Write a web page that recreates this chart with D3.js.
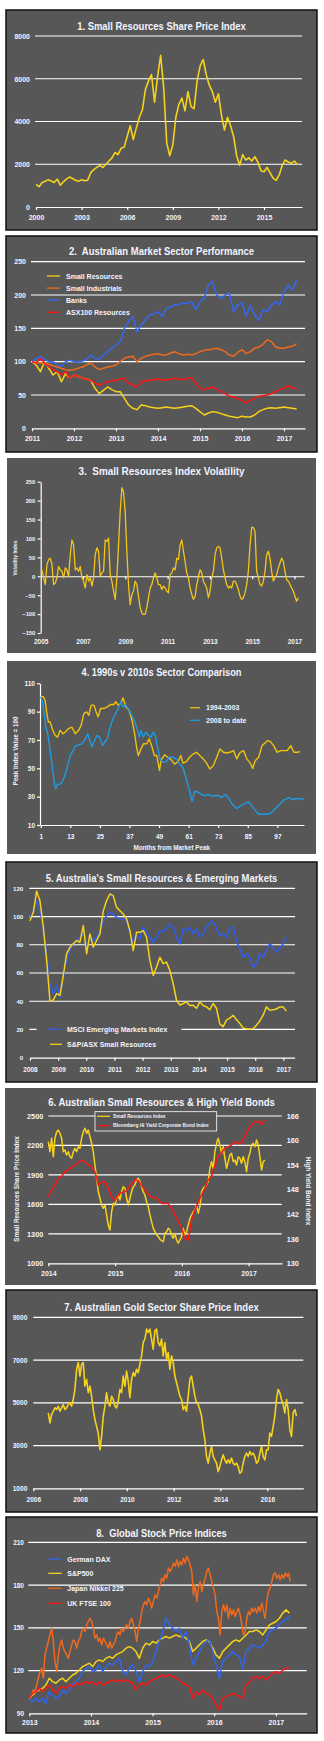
<!DOCTYPE html>
<html>
<head>
<meta charset="utf-8">
<script src="https://cdn.jsdelivr.net/npm/d3@7"></script>
<style>
  body { margin: 0; background: #fff; }
  svg { display: block; }
  svg text { font-family: "Liberation Sans", Arial, sans-serif; font-weight: bold; fill: #f2f4ff; }
  .title { white-space: pre; }
</style>
</head>
<body>
<svg id="chart" width="324" height="1741"></svg>
<script>
// ---- 1. Small Resources share price index (every 0.2 yr from 2000) ----
const smallResStart = 2000, smallResStep = 0.2;
const smallResIndex = [
  1060, 950, 1150, 1200, 1280, 1220, 1150, 1300, 1020, 1180,
  1300, 1400, 1330, 1250, 1200, 1280, 1230, 1250, 1600, 1750,
  1850, 1950, 1850, 2000, 2150, 2300, 2550, 2450, 2750, 2800,
  3300, 3800, 3150, 3700, 4200, 4550, 5500, 5900, 6200, 4900,
  6100, 7100, 5600, 3000, 2400, 2900, 4200, 4800, 5100, 4500,
  5400, 4700, 4600, 5900, 6600, 6900, 6200, 5700, 5400, 4900,
  5300, 4300, 3600, 4200, 3800, 3300, 2400, 1950, 2450, 2200,
  2300, 2150, 2350, 2100, 1700, 1650, 1850, 1600, 1350, 1250,
  1500, 1950, 2200, 2100, 2050, 2150, 1980
];
const smallResYears = [2000, 2003, 2006, 2009, 2012, 2015];
const smallResTicks = [0, 2000, 4000, 6000, 8000];

// ---- 2. Sector performance (every 0.1 yr from 2011) ----
const sectorStart = 2011, sectorStep = 0.1;
const sectorNames = ["Small Resources", "Small Industrials", "Banks", "ASX100 Resources"];
const sectorSmallRes = [
  100, 95, 85, 100, 90, 80, 85, 70, 82, 75,
  80, 78, 75, 74, 72, 60, 52, 57, 62, 58,
  55, 55, 45, 35, 30, 28, 35, 34, 32, 31,
  30, 31, 32, 31, 30, 31, 32, 33, 34, 30,
  25, 20, 23, 25, 24, 22, 20, 18, 17, 16,
  18, 17, 17, 20, 25, 28, 30, 31, 30, 31,
  32, 31, 30, 29
];
const sectorSmallInd = [
  100, 99, 98, 97, 96, 94, 92, 90, 88, 87,
  88, 90, 92, 95, 98, 92, 88, 90, 92, 93,
  95, 100, 105, 107, 108, 100, 105, 108, 110, 111,
  112, 110, 110, 113, 115, 112, 110, 111, 110, 112,
  115, 117, 118, 119, 120, 118, 115, 110, 108, 114,
  118, 112, 115, 120, 122, 126, 133, 130, 122, 120,
  120, 122, 123, 127
];
const sectorBanks = [
  100, 104, 108, 103, 100, 100, 96, 92, 100, 102,
  100, 100, 101, 103, 110, 105, 104, 110, 115, 120,
  125, 130, 150, 160, 168, 145, 155, 163, 170, 172,
  175, 168, 180, 182, 185, 186, 188, 187, 190, 178,
  190, 195, 215, 220, 200, 195, 200, 203, 175, 185,
  188, 168, 185, 170, 162, 178, 175, 185, 190, 185,
  205, 215, 208, 222
];
const sectorAsx100Res = [
  100, 98, 105, 98, 92, 88, 85, 80, 85, 75,
  80, 78, 75, 74, 72, 68, 65, 67, 70, 71,
  72, 74, 75, 68, 65, 62, 70, 71, 72, 73,
  74, 73, 72, 74, 75, 74, 73, 75, 76, 68,
  60, 58, 60, 62, 58, 55, 52, 48, 47, 45,
  42, 38, 42, 45, 48, 49, 50, 52, 55, 58,
  60, 64, 60, 60
];
const sectorYears = [2011, 2012, 2013, 2014, 2015, 2016, 2017];
const sectorTicks = [0, 50, 100, 150, 200, 250];

// ---- 3. Volatility index (every 0.0787 yr) ----
const volStart = 2005.06, volStep = 0.0787;
const volatility = [
  17, -4, -22, 31, 44, 48, 31, -22, -18, -4,
  26, 17, 13, -4, 22, 17, 0, 57, 96, 83,
  17, 22, 13, 26, -4, -13, -31, 4, -13, -4,
  -26, -4, 57, 75, 66, 0, 9, 13, 96, 92,
  101, 4, -13, -39, -61, -4, 83, 171, 234, 224,
  171, 66, -22, -75, -48, -39, -13, -22, -53, -83,
  -97, -101, -101, -83, -57, -31, -22, -4, 9, -4,
  -22, -22, -35, -26, -31, -39, -44, 4, 9, 22,
  17, 48, 44, 83, 96, 66, 39, 9, -4, -31,
  -48, -61, -53, -22, 0, 17, 9, -13, -22, -31,
  -57, -39, -4, 13, 57, 75, 79, 75, 48, 17,
  -4, -22, -31, -26, -31, -13, -13, -22, -35, -53,
  -61, -57, -44, -22, 13, 83, 129, 129, 118, 13,
  -4, -22, -26, -13, 13, 57, 66, 48, 13, -13,
  -4, 4, 22, 35, 48, 39, 13, -9, -13, -22,
  -31, -39, -53, -66, -57
];
const volYears = [2005, 2007, 2009, 2011, 2013, 2015, 2017];
const volTicks = [-150, -100, -50, 0, 50, 100, 150, 200, 250];

// ---- 4. Cycle comparison, [month from peak, index] ----
const cycle1994 = [
  [1,100.5],[2.1,100.5],[2.8,98],[3.5,88.6],[4.1,82.7],[4.8,82.7],[5.5,79],[6.2,75.6],[6.9,73.2],[7.8,72],
  [8.9,76.8],[10,74.4],[11,75.6],[12.3,78],[13.7,79],[15,74.4],[16.4,76.8],[17.4,80.3],[18.5,88.6],[19.6,89.8],
  [20.5,87.4],[21.5,94.6],[22.6,94.6],[23.5,89.8],[24.3,86.3],[25.3,92.2],[26.6,92.2],[28,93.4],[29.4,95],[30.7,95],
  [31.4,97],[32.4,94.6],[33.5,95.8],[34.4,99.8],[35.5,93.4],[36.9,91],[38.2,82.7],[39.2,73.2],[39.9,65],[40.6,59],
  [41.7,63.7],[42.7,67.3],[44,67.3],[45,70.8],[46,66],[47.1,59],[48.1,59],[49.2,48.5],[49.8,55.6],[51.2,59.5],
  [52.6,57.8],[53.9,56.1],[55.3,53],[56.7,54.7],[57.8,59],[58.7,53.7],[60.1,54.7],[61.4,57.8],[62.8,60.1],[64.2,61.3],
  [65.5,59],[66.9,56.7],[68.3,53.7],[69.6,49.5],[71,51.8],[72.4,57.8],[73.7,63.7],[75.1,61.3],[76.4,60.8],[77.8,61.3],
  [79.2,62.5],[80.5,56.7],[81.9,61.3],[83.3,62.5],[84.6,56.7],[86,53.7],[87,49.9],[88,55.4],[89.4,57.8],[90.8,66],
  [92.1,68],[93.1,69.6],[94.2,68.8],[95.5,66],[96.9,61.3],[98.3,62.5],[99.7,62.5],[101,62.5],[102.4,66],[103.7,61.3],
  [105.1,61.3],[106.2,61.8]
];
const cycle2008 = [
  [1,100.5],[1.7,97],[2.4,88.6],[3.1,79],[3.7,75.6],[4.4,68.4],[5.1,59],[5.8,49.5],[6.5,40],[7.1,35.7],
  [7.8,38.7],[8.6,38.7],[9.6,40],[10.5,43.5],[11.6,49.5],[13,59],[14.1,62.5],[15,65.6],[16.4,66.6],[17.8,67.3],
  [19.1,70.8],[20.1,74.4],[20.9,69.6],[21.9,65],[22.8,69.6],[23.9,73.2],[24.9,72],[26,66],[26.9,68.4],[28,70.8],
  [29,78],[30.1,83.9],[31.4,88.6],[32.4,92.2],[33.5,97],[34.4,93.4],[35.5,94.6],[36.9,91],[38.2,86.3],[39.2,82.7],
  [40.3,76.8],[41,72],[41.7,76.8],[42.6,72],[43.7,75.6],[44.8,73.2],[45.7,72],[46.7,75.6],[47.5,73.2],[48.5,63.7],
  [49.4,56.7],[50.5,54.3],[51.9,54.7],[53.2,57.8],[54.6,57.8],[56,56.7],[57.3,53],[58.7,50.6],[59.7,44.7],[60.8,37.6],
  [61.4,34],[62.4,26.8],[63.5,34],[64.9,33],[66.2,31.6],[67.6,30.5],[68.9,31.6],[70.3,30.5],[71.7,30.5],[73,31],
  [74.4,29.3],[75.8,31.6],[77.1,29.3],[78.5,25],[80.5,21.7],[82.6,24],[85.3,26.3],[87.4,21.7],[89.4,17.6],[92.1,17.6],
  [94.2,18.1],[95.5,20.5],[97.6,24],[99.6,27.5],[100.3,28.1],[101.7,29.3],[103,28],[104.4,28.5],[106.5,28.6],[107.8,28]
];
const cycleMonths = [1, 13, 25, 37, 49, 61, 73, 85, 97];
const cycleTicks = [10, 30, 50, 70, 90, 110];

// ---- 5. Small resources vs emerging markets (every 0.1183 yr from 2008) ----
const emStart = 2008, emStep = 0.1183;
const msciEm = [
  99.4, 103, 111.2, 104, 92.4, 73.6, 51.3, 45.4, 51.3, 43,
  57.1, 68.9, 75.9, 80.7, 83, 85.3, 87.7, 78.3, 85.3, 83,
  85.3, 90, 97, 100.6, 103, 101.8, 99.4, 98.3, 98.3, 97,
  88.8, 80.7, 87.7, 84.1, 92.4, 88.8, 85.3, 81.8, 85.3, 90,
  88.8, 91.2, 94.7, 92.4, 85.3, 80.7, 91.2, 90, 92.4, 87.7,
  91.2, 85.3, 87.7, 92.4, 95.9, 96.6, 91.2, 86.5, 87.7, 85.3,
  91.2, 92.9, 83, 77.1, 71.2, 73.6, 71.2, 64.2, 66.6, 73.6,
  71.2, 75.9, 80.7, 78.3, 74.8, 77.1, 80.7, 85.3
];
const asxSmallRes = [
  97, 103, 118, 111, 92.4, 68.9, 40, 41, 45.4, 44.2,
  58.3, 73.6, 78.3, 80.7, 83, 81.8, 93.6, 73.6, 87.7, 78.3,
  83, 87.7, 104, 111.2, 116, 114.7, 106.5, 104.1, 101.8, 98.3,
  90, 75.9, 88.8, 88.8, 90, 85.3, 68.9, 58.3, 64.2, 71.2,
  66.6, 67.7, 61.8, 52.5, 40.7, 37.2, 38.4, 39.5, 37, 37.2,
  35, 39.5, 37, 36, 34, 38.4, 35, 24, 22, 26.6,
  28, 30.1, 27, 24.3, 21, 20.5, 20.3, 20.5, 23, 26,
  30.1, 36, 33.6, 34, 34.5, 36, 36, 33
];
const emYears = [2008, 2009, 2010, 2011, 2012, 2013, 2014, 2015, 2016, 2017];
const emTicks = [0, 20, 40, 60, 80, 100, 120];

// ---- 6. Small resources vs high yield bonds ----
const hyStart = 2014;
const hySmallResStep = 0.02495;
const hySmallRes = [
  2238, 2136, 2273, 2086, 2273, 2340, 2357, 2324, 2273, 2136,
  2154, 2103, 2136, 2086, 2069, 2136, 2171, 2136, 2187, 2171,
  2273, 2340, 2375, 2324, 2357, 2289, 2222, 2136, 2001, 1866,
  1729, 1662, 1594, 1560, 1594, 1492, 1390, 1340, 1525, 1611,
  1594, 1662, 1695, 1645, 1729, 1780, 1763, 1662, 1594, 1662,
  1729, 1780, 1797, 1848, 1866, 1831, 1780, 1729, 1695, 1627,
  1577, 1492, 1424, 1356, 1322, 1290, 1271, 1245, 1230, 1220,
  1305, 1322, 1356, 1339, 1288, 1254, 1305, 1237, 1204, 1237,
  1271, 1356, 1288, 1322, 1390, 1458, 1492, 1525, 1543, 1594,
  1509, 1577, 1729, 1763, 1780, 1797, 1831, 1967, 2035, 1967,
  2136, 2222, 2273, 2204, 2120, 2187, 2069, 1967, 2035, 2103,
  2120, 2035, 2052, 2001, 2086, 2069, 2018, 2086, 2035, 1933,
  2069, 2120, 2204, 2222, 2187, 2256, 2204, 2086, 1950, 2035,
  2052
];
const hyBondStep = 0.0499;
const hyBond = [
  146.3, 147.9, 149.1, 150.8, 151.2, 152.4, 152.8, 153.6, 154, 154.8,
  155.2, 154.8, 154, 153.6, 152.4, 149.1, 149.8, 150, 148.3, 146.3,
  145.3, 146.7, 147.3, 147.5, 148.3, 149.3, 150.4, 150.2, 149, 147.9,
  146.9, 146.1, 146.1, 145.6, 144.6, 144.6, 144.6, 143.4, 141.8, 140.4,
  138.7, 136.1, 135.7, 140.6, 143, 145, 146.7, 148.3, 150.4, 151.2,
  154, 156.1, 157.1, 158.1, 158.5, 158.9, 159.7, 159.3, 159.5, 161.2,
  162.6, 163.8, 164.6, 164.6, 164, 165
];
const hyYears = [2014, 2015, 2016, 2017];
const hyLeftTicks = [1000, 1300, 1600, 1900, 2200, 2500];
const hyRightTicks = [130, 136, 142, 148, 154, 160, 166];

// ---- 7. Gold sector index (every 0.0712 yr) ----
const goldStart = 2006.64, goldStep = 0.0712;
const goldIndex = [
  4529, 4059, 4449, 4605, 4765, 4685, 4840, 4605, 4765, 4920,
  4685, 4765, 4920, 5000, 4840, 5155, 5626, 6567, 6882, 6252,
  6802, 6882, 5781, 6096, 5470, 5781, 5310, 4685, 4214, 3899,
  3588, 2802, 3428, 4369, 4840, 5470, 5000, 4840, 5310, 5155,
  4840, 4765, 5075, 5626, 5470, 6252, 5781, 6487, 6017, 5235,
  6096, 6412, 6252, 6567, 6412, 6802, 7193, 7823, 7979, 8449,
  8292, 8449, 7979, 7508, 8372, 8449, 7823, 7663, 7979, 7193,
  7823, 7037, 7353, 6567, 7193, 6882, 6252, 5941, 5626, 5310,
  5155, 4685, 4840, 4605, 5310, 6096, 6252, 5781, 5310, 5000,
  4920, 4685, 4369, 3743, 3274, 2487, 2176, 2647, 2958, 2487,
  2332, 2176, 1781, 2016, 2332, 2567, 2332, 2176, 2332, 2176,
  2412, 2176, 2096, 2176, 2016, 1706, 1781, 2176, 2487, 2647,
  2487, 2722, 2567, 2647, 2487, 2176, 2252, 2647, 2958, 2487,
  2332, 2802, 2802, 3588, 3428, 3899, 4369, 5155, 5626, 5470,
  5155, 4920, 4529, 5155, 4685, 3743, 3428, 4529, 4685, 4369
];
const goldYears = [2006, 2008, 2010, 2012, 2014, 2016];
const goldTicks = [1000, 3000, 5000, 7000, 9000];

// ---- 8. Global indices ----
const globalStart = 2013;
const nikkeiStep = 0.02706;
const nikkei225 = [
  100.5, 102.9, 106.4, 105.2, 109.9, 114.6, 119.3, 121.6, 114.6, 131,
  135.7, 140.4, 145, 149.7, 140.4, 126.3, 119.3, 131, 138, 141.5,
  135.7, 133.3, 131, 128.6, 133.3, 138, 141.5, 140.4, 135.7, 140.4,
  142.7, 147.4, 149.7, 147.4, 152.1, 154.4, 156.7, 154.4, 149.7, 142.7,
  145, 140.4, 142.7, 138, 142.7, 140.4, 138, 135.7, 140.4, 135.7,
  138, 140.4, 145, 147.4, 145, 149.7, 147.4, 149.7, 152.1, 149.7,
  154.4, 156.7, 152.1, 147.4, 140.4, 149.7, 154.4, 161.4, 166.1, 168.5,
  166.1, 170.8, 168.5, 163.8, 168.5, 173.1, 170.8, 175.5, 180.2, 184.8,
  182.5, 187.2, 184.8, 191.9, 189.5, 191.9, 195.4, 193, 197.7, 193,
  196.6, 194.2, 198.9, 195.4, 200.1, 197.7, 194.2, 189.5, 173.1, 180.2,
  168.5, 177.8, 182.5, 175.5, 180.2, 184.8, 189.5, 191.9, 187.2, 182.5,
  177.8, 173.1, 161.4, 156.7, 145, 161.4, 166.1, 161.4, 166.1, 156.7,
  163.8, 159.1, 162.6, 157.9, 161.4, 163.8, 159.1, 152.1, 145, 147.4,
  156.7, 161.4, 159.1, 163.8, 161.4, 163.8, 160.3, 164.9, 161.4, 167.3,
  161.4, 156.7, 168.5, 175.5, 177.8, 182.5, 187.2, 188.4, 184.8, 187.2,
  183.7, 187.2, 184.8, 188.4, 186, 188.4, 182.5
];
const globalStep = 0.0541;
const sp500 = [
  100.5, 102.9, 105.2, 106.4, 107.6, 109.9, 114.6, 112.2, 111.1, 113.4,
  114.6, 112.2, 114.6, 116.9, 118.1, 120.4, 122.8, 124, 125.1, 122.8,
  126.3, 127.5, 126.3, 128.6, 129.8, 128.6, 131, 132.2, 133.3, 135.7,
  136.8, 135.7, 133.3, 128.6, 135.7, 139.2, 138, 140.4, 139.2, 141.5,
  142.7, 143.9, 142.7, 143.9, 145, 143.9, 143.9, 142.7, 140.4, 133.3,
  135.7, 138, 140.4, 141.5, 140.4, 135.7, 131, 128.6, 133.3, 135.7,
  138, 140.4, 141.5, 140.4, 142.7, 145, 147.4, 147.4, 148.5, 147.4,
  145, 148.5, 152.1, 153.2, 154.4, 156.7, 160.3, 162.6, 160.3
];
const germanDax = [
  99.4, 98.2, 100.5, 98.2, 100.5, 97, 105.2, 102.9, 100.5, 101.7,
  106.4, 104, 106.4, 109.9, 112.2, 114.6, 119.3, 121.6, 122.8, 119.3,
  120.4, 124, 119.3, 122.8, 125.1, 124, 126.3, 128.6, 119.3, 116.9,
  121.6, 124, 119.3, 112.2, 119.3, 124, 122.8, 126.3, 133.3, 140.4,
  147.4, 157, 152.1, 149.7, 147.4, 149.7, 142.7, 147.4, 138, 124,
  128.6, 133.3, 138, 140.4, 141.5, 133.3, 124, 114.6, 126.3, 128.6,
  131, 133.3, 131, 129.8, 121, 133.3, 135.7, 138, 136.8, 135.7,
  138, 140.4, 147.4, 148.5, 149.7, 152.1, 154.4, 155.6, 157.9
];
const ukFtse = [
  100.5, 104, 105.2, 107.6, 105.2, 107.6, 109.9, 106.4, 104, 107.6,
  108.7, 107.6, 109.9, 108.7, 111.1, 109.9, 111.1, 112.2, 111.1, 112.2,
  109.9, 112.2, 109.9, 111.1, 112.2, 113.4, 112.2, 113.4, 112.2, 113.4,
  112.2, 111.1, 106.4, 109.9, 111.1, 109.9, 112.2, 113.4, 114.6, 115.8,
  116.9, 115.8, 116.9, 115.8, 114.6, 113.4, 111.1, 109.9, 108.7, 100.5,
  105.2, 102.9, 106.4, 104, 102.9, 100.5, 95.9, 92.3, 100.5, 101.7,
  102.9, 104, 102.9, 101.7, 100.5, 109.9, 112.2, 114.6, 115.8, 114.6,
  115.8, 113.4, 115.8, 118.1, 119.3, 118.1, 120.4, 121.6, 122.1
];
const globalYears = [2013, 2014, 2015, 2016, 2017];
const globalTicks = [90, 120, 150, 180, 210];

// ---------------------------------------------------------------------
const svg = d3.select("#chart");
const panelFill = "#575757";
const yellow = "#f6d21a", orange = "#ef6a1c", blue = "#3567f2", red = "#ff1616";
const fmt = d3.format("d");
const seq = (start, step, values) => values.map((v, i) => [start + i * step, v]);

function panel(x, y, w, h, border) {
  svg.append("rect")
    .attr("x", x).attr("y", y).attr("width", w).attr("height", h)
    .attr("fill", panelFill)
    .attr("stroke", border ? "#111" : "none")
    .attr("stroke-width", 1.5);
}

function title(text, cy, width) {
  svg.append("text").attr("class", "title")
    .attr("x", 161.5).attr("y", cy)
    .attr("text-anchor", "middle").attr("dominant-baseline", "central")
    .attr("font-size", 10.5)
    .attr("textLength", width).attr("lengthAdjust", "spacingAndGlyphs")
    .text(text);
}

function grid(y, ticks, x0, x1) {
  svg.append("g").selectAll("line").data(ticks).join("line")
    .attr("x1", x0).attr("x2", x1)
    .attr("y1", d => y(d)).attr("y2", d => y(d))
    .attr("stroke", "#fff").attr("stroke-width", 1.2);
}

function leftAxis(y, x, ticks, size, pad, tick = 0) {
  const g = svg.append("g").attr("transform", `translate(${x},0)`).attr("color", "#fff")
    .call(d3.axisLeft(y).tickValues(ticks).tickSize(tick).tickSizeOuter(0).tickPadding(pad).tickFormat(fmt));
  if (!tick) g.select(".domain").remove();
  g.selectAll("path, line").attr("stroke-width", 1.2);
  g.selectAll("text").attr("font-size", size);
}

function rightAxis(y, x, ticks, size, pad) {
  const g = svg.append("g").attr("transform", `translate(${x},0)`)
    .call(d3.axisRight(y).tickValues(ticks).tickSize(0).tickPadding(pad).tickFormat(fmt));
  g.select(".domain").remove();
  g.selectAll("text").attr("font-size", size);
}

function bottomAxis(x, y, ticks, size, pad, tick = 3, labels = true, domain = true) {
  const g = svg.append("g").attr("transform", `translate(0,${y})`).attr("color", "#fff")
    .call(d3.axisBottom(x).tickValues(ticks).tickSize(tick).tickSizeOuter(0).tickPadding(pad)
      .tickFormat(labels ? fmt : () => ""));
  if (!domain) g.select(".domain").remove();
  g.selectAll("path, line").attr("stroke-width", 1.2);
  g.selectAll("text").attr("font-size", size);
}

function series(points, x, y, color, width = 1.5) {
  svg.append("path").datum(points)
    .attr("fill", "none").attr("stroke", color)
    .attr("stroke-width", width).attr("stroke-linejoin", "round")
    .attr("d", d3.line().x(d => x(d[0])).y(d => y(d[1])));
}

function legendRow(x1, x2, y, tx, color, label, size) {
  svg.append("line").attr("x1", x1).attr("x2", x2).attr("y1", y).attr("y2", y)
    .attr("stroke", color).attr("stroke-width", 1.3);
  svg.append("text").attr("x", tx).attr("y", y)
    .attr("dominant-baseline", "central").attr("font-size", size).text(label);
}

function axisTitle(text, x, cy, size, angle) {
  svg.append("text")
    .attr("transform", `translate(${x},${cy}) rotate(${angle})`)
    .attr("text-anchor", "middle").attr("dominant-baseline", "central")
    .attr("font-size", size).text(text);
}

// ---- panel 1 ----
{
  panel(6, 10, 311, 220, true);
  title("1. Small Resources Share Price Index", 26, 168.7);
  const x = d3.scaleLinear().domain([2000, 2017.5]).range([36, 302]);
  const y = d3.scaleLinear().domain([0, 8000]).range([207, 36]);
  grid(y, smallResTicks.slice(1), 35, 302);
  leftAxis(y, 35, smallResTicks, 7, 5);
  bottomAxis(x, 207, smallResYears, 7, 5.5);
  series(seq(smallResStart, smallResStep, smallResIndex), x, y, yellow, 1.6);
}

// ---- panel 2 ----
{
  panel(6, 236, 311, 216, true);
  title("2.  Australian Market Sector Performance", 251, 185);
  const x = d3.scaleLinear().domain([2011, 2017.5]).range([32, 305]);
  const y = d3.scaleLinear().domain([0, 250]).range([428.3, 261.7]);
  grid(y, sectorTicks.slice(1), 31, 305);
  leftAxis(y, 31, sectorTicks, 7, 5);
  bottomAxis(x, 428.3, sectorYears, 7, 5.2);
  const colors = [yellow, orange, blue, red];
  [sectorSmallRes, sectorSmallInd, sectorBanks, sectorAsx100Res].forEach((vals, i) =>
    series(seq(sectorStart, sectorStep, vals), x, y, colors[i]));
  sectorNames.forEach((name, i) => legendRow(47, 60, 276 + i * 12.1, 66, colors[i], name, 7));
}

// ---- panel 3 ----
{
  panel(7, 458, 309, 195, false);
  title("3.  Small Resources Index Volatility", 470.7, 166);
  const x = d3.scaleLinear().domain([2005, 2017.45]).range([40.7, 304]);
  const y = d3.scaleLinear().domain([-150, 250]).range([633, 481.7]);
  leftAxis(y, 40.7, volTicks, 5.8, 2.4, 3);
  bottomAxis(x, y(0), volYears.slice(1), 6, 0, 3, false);
  bottomAxis(x, 633, volYears, 6.5, 6.7, 0, true, false);
  axisTitle("Volatility Index", 15, 558, 5, -90);
  series(seq(volStart, volStep, volatility), x, y, "#f5c518", 1.3);
}

// ---- panel 4 ----
{
  panel(7, 661, 309, 193, false);
  title("4. 1990s v 2010s Sector Comparison", 671.7, 160);
  const x = d3.scaleLinear().domain([1, 107.8]).range([40.7, 304]);
  const y = d3.scaleLinear().domain([10, 110]).range([825, 683.3]);
  leftAxis(y, 40, cycleTicks, 6.5, 2, 3);
  bottomAxis(x, 825, cycleMonths, 6.5, 6.4);
  axisTitle("Months from Market Peak", 171.7, 847.7, 6.3, 0);
  axisTitle("Peak Index Value = 100", 15, 751, 6.3, -90);
  series(cycle1994, x, y, "#f2c10a", 1.4);
  series(cycle2008, x, y, "#1f9be3", 1.4);
  legendRow(190, 200, 707.7, 206, "#f2c10a", "1994-2003", 7);
  legendRow(190, 200, 720.3, 206, "#1f9be3", "2008 to date", 7);
}

// ---- panel 5 ----
{
  panel(6, 862, 311, 220, true);
  title("5. Australia's Small Resources & Emerging Markets", 877.7, 231.7);
  const x = d3.scaleLinear().domain([2008, 2017.4]).range([30, 294.6]);
  const y = d3.scaleLinear().domain([0, 120]).range([1057.7, 888.3]);
  grid(y, emTicks.slice(1), 29.3, 295);
  leftAxis(y, 29.3, emTicks, 6.2, 6);
  bottomAxis(x, 1057.7, emYears, 6.5, 6.3);
  series(seq(emStart, emStep, msciEm), x, y, "#2f5df0");
  series(seq(emStart, emStep, asxSmallRes), x, y, yellow);
  svg.append("rect").attr("x", 36.5).attr("y", 1022).attr("width", 145)
    .attr("height", 29).attr("fill", panelFill);
  legendRow(48, 62, 1029.3, 67, "#2f5df0", "MSCI Emerging Markets Index", 7);
  legendRow(50, 62, 1044.3, 67, yellow, "S&P/ASX Small Resources", 7);
}

// ---- panel 6 ----
{
  panel(5, 1088, 311, 197, false);
  title("6. Australian Small Resources & High Yield Bonds", 1102.3, 226.7);
  const x = d3.scaleLinear().domain([2014, 2017.5]).range([48.3, 282]);
  const yL = d3.scaleLinear().domain([1000, 2500]).range([1263.3, 1116]);
  const yR = d3.scaleLinear().domain([130, 166]).range([1263.3, 1116]);
  grid(yL, hyLeftTicks.slice(1), 48.3, 281.7);
  leftAxis(yL, 48.3, hyLeftTicks, 7.3, 5);
  rightAxis(yR, 281.7, hyRightTicks, 7.3, 5);
  bottomAxis(x, 1263.3, hyYears, 7, 4.5);
  axisTitle("Small Resources Share Price Index", 16.7, 1189, 6.3, -90);
  axisTitle("High Yield Bond Index", 308.3, 1191, 6.5, 90);
  series(seq(hyStart, hySmallResStep, hySmallRes), x, yL, yellow);
  series(seq(hyStart, hyBondStep, hyBond), x, yR, red);
  svg.append("rect").attr("x", 95).attr("y", 1111.7).attr("width", 121.7).attr("height", 19.3)
    .attr("fill", panelFill).attr("stroke", "#fff").attr("stroke-width", 0.8);
  legendRow(97, 110, 1116.3, 113, yellow, "Small Resources Index", 4.8);
  legendRow(97, 110, 1125.7, 113, red, "Bloomberg Hi Yield Corporate Bond Index", 4.8);
}

// ---- panel 7 ----
{
  panel(6, 1290, 311, 222, true);
  title("7. Australian Gold Sector Share Price Index", 1306.7, 194.3);
  const x = d3.scaleLinear().domain([2006, 2017.54]).range([33.3, 303.3]);
  const y = d3.scaleLinear().domain([1000, 9000]).range([1488.3, 1317.3]);
  grid(y, goldTicks.slice(1), 33.3, 303.3);
  leftAxis(y, 33.3, goldTicks, 6.6, 6);
  bottomAxis(x, 1488.3, goldYears, 6.5, 5.7);
  series(seq(goldStart, goldStep, goldIndex), x, y, yellow, 1.6);
}

// ---- panel 8 ----
{
  panel(6, 1517, 311, 216, true);
  title("8.  Global Stock Price Indices", 1532.7, 130.7);
  const x = d3.scaleLinear().domain([2013, 2017.5]).range([29.3, 306.7]);
  const y = d3.scaleLinear().domain([90, 210]).range([1713.3, 1542.3]);
  grid(y, globalTicks.slice(1), 28.3, 306.7);
  leftAxis(y, 28.3, globalTicks, 6.5, 4.3);
  bottomAxis(x, 1713.3, globalYears, 7, 4.2);
  series(seq(globalStart + 0.011, nikkeiStep, nikkei225), x, y, orange);
  series(seq(globalStart, globalStep, sp500), x, y, yellow);
  series(seq(globalStart, globalStep, germanDax), x, y, "#2f66f0");
  series(seq(globalStart, globalStep, ukFtse), x, y, red);
  const names = ["German DAX", "S&P500", "Japan Nikkei 225", "UK FTSE 100"];
  const cols = ["#2f66f0", yellow, orange, red];
  names.forEach((n, i) => legendRow(48.3, 61.7, [1559, 1573.3, 1588.3, 1603.3][i], 67.3, cols[i], n, 7));
}
</script>
</body>
</html>
